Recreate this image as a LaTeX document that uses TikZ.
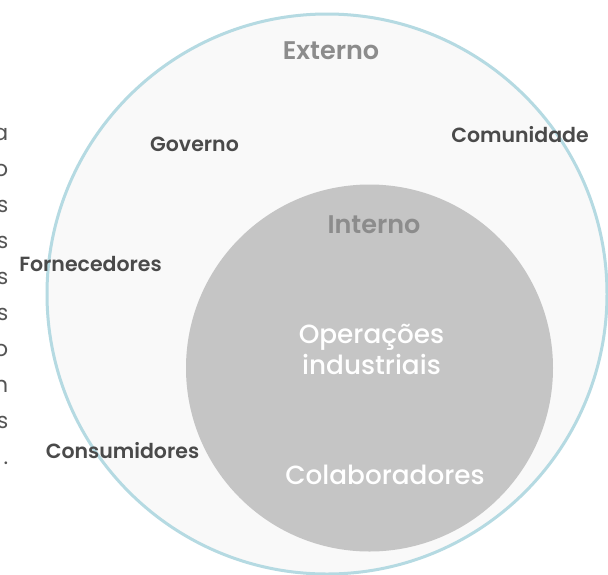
\documentclass[tikz,border=0pt]{standalone}
\usepackage{fontspec}
\setmainfont{Poppins}
\newfontfamily\semibfont{Poppins SemiBold}
\newfontfamily\mediumfont{Poppins Medium}
\definecolor{ringblue}{HTML}{B5DAE2}
\definecolor{outerfill}{HTML}{F9F9F9}
\definecolor{innerfill}{HTML}{C5C5C5}
\definecolor{headgray}{HTML}{8C8C8C}
\definecolor{labeldark}{HTML}{4A4A4A}
\definecolor{textgray}{HTML}{555555}
\tikzset{
  ring/.style={draw=ringblue, line width=3pt, fill=outerfill},
  core/.style={fill=innerfill},
  headtext/.style={anchor=base, inner sep=0pt, text=headgray, font=\fontsize{25.5}{30}\semibfont},
  extlabel/.style={anchor=base, inner sep=0pt, text=labeldark, font=\fontsize{20.5}{24}\semibfont},
  corelabel/.style={anchor=base, inner sep=0pt, text=white, font=\fontsize{26.3}{31}\mediumfont},
  edgeletter/.style={anchor=base east, inner sep=0pt, text=textgray, font=\fontsize{22}{26}\selectfont}
}
\begin{document}
\begin{tikzpicture}[x=1pt,y=-1pt]
\useasboundingbox (0,0) rectangle (608,574);
\fill[white] (0,0) rectangle (608,574);
\draw[ring] (327,294) circle[radius=280];
\fill[core] (369.5,368) circle[radius=183.5];
% external labels
\node[headtext] (externo) at (331,59) {Externo};
\node[extlabel] (governo) at (194.5,151.7) {Governo};
\node[extlabel] (comunidade) at (520,142) {Comunidade};
\node[extlabel] (fornecedores) at (90.5,271) {Fornecedores};
\node[extlabel] (consumidores) at (122.5,458) {Consumidores};
% internal labels
\node[headtext] (interno) at (374,233) {Interno};
\node[corelabel] (operacoes) at (371.5,343) {Operações};
\node[corelabel] (industriais) at (371.5,374) {industriais};
\node[corelabel] (colaboradores) at (385,484) {Colaboradores};
% cut-off paragraph at the left edge
\node[edgeletter] (l1) at (8.5,140) {a};
\node[edgeletter] (l2) at (8.5,176.1) {o};
\node[edgeletter] (l3) at (8.5,212.2) {s};
\node[edgeletter] (l4) at (8.5,248.3) {s};
\node[edgeletter] (l5) at (8.5,284.4) {s};
\node[edgeletter] (l6) at (8.5,320.5) {s};
\node[edgeletter] (l7) at (8.5,356.6) {o};
\node[edgeletter] (l8) at (8.5,392.7) {n};
\node[edgeletter] (l9) at (8.5,428.8) {s};
\node[edgeletter] (l10) at (8.5,464.9) {.};
\end{tikzpicture}
\end{document}
